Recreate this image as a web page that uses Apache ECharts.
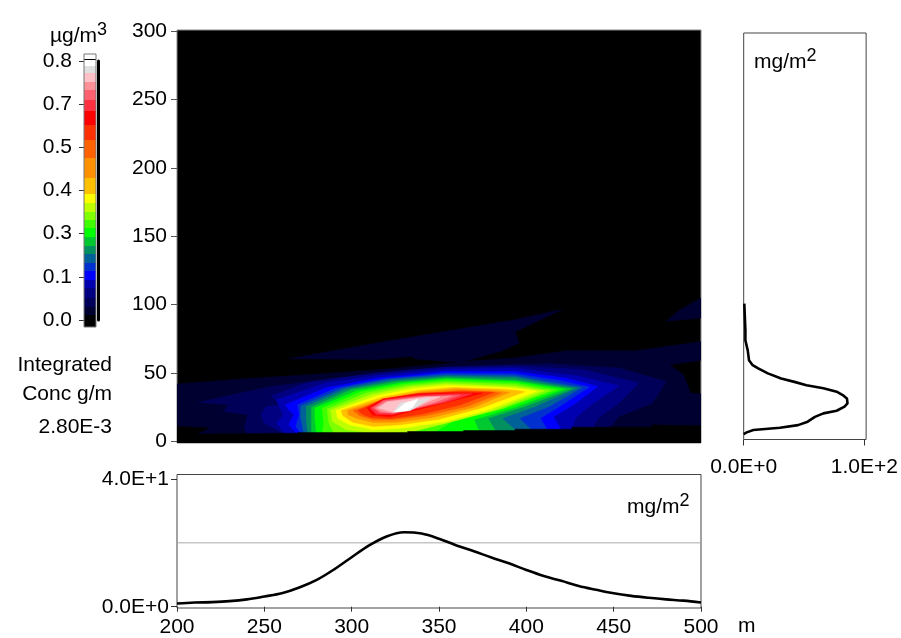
<!DOCTYPE html>
<html><head><meta charset="utf-8">
<style>html,body{margin:0;padding:0;background:#fff}#c{width:901px;height:638px}</style>
<script src="https://cdn.jsdelivr.net/npm/echarts@6/dist/echarts.min.js"></script>
</head><body><div id="c"></div>
<script>
// Contour bands: outlines as [distance m, height m], lowest level first
const band1 = [[200,3.7],[200,42],[236,45.6],[275,48.8],[314.5,52.4],[361,57.8],[337,60.2],[334,62.2],[314.5,60],[264,60.5],[314.5,72],[354,80.5],[393.5,89],[421,96.8],[393.5,80],[396,72],[385.5,65.9],[364,58.5],[393.5,61],[423,66.3],[462.5,66.3],[500,73],[500,59.3],[482,56],[490,48.8],[494,35.4],[500,34.9],[500,3.7]];
const band1b = [[480,87.8],[488,96.3],[500,104.9],[500,90.2]];
const band2 = [[212,28.5],[236,35.4],[254,40.2],[295,47],[334,52.4],[374,55.4],[413,56.8],[453,53.7],[480,43.9],[476,35.4],[472,28],[453,18.3],[448,10.5],[448,3.7],[240.5,3.7],[238.5,10.5],[240.5,19.5],[226.6,22],[229.6,26.8]];
const band3 = [[254,33.4],[275,43.2],[314.5,50],[354,54.4],[393.5,55.4],[433,52.4],[464.5,42.7],[453,28],[441,17],[438,9.8],[438,3.7],[264,3.7],[250,13.4],[248,19.5],[251,25.6],[259,26.8]];
const band4 = [[257,30.5],[285,42.7],[314.5,48.3],[354,53],[393.5,53.7],[429,48],[453,40.7],[437,26.8],[428,17],[426,9],[426,3.7],[263,3.7],[257,13.4],[261,19.5],[259,24.4]];
const band5 = [[262,26.8],[285,39],[314.5,46.3],[354,51.2],[393.5,51.2],[423,46.3],[441,40.2],[427,26.8],[415.5,18],[420,8.5],[420,3.7],[270,3.7],[264,12.2],[267,19.5],[264,23.2]];
const band6 = [[269,26.8],[291,39],[318,45.6],[354,50],[393.5,49.5],[419,44.6],[436,39.8],[419,25.6],[408,17],[412,8.5],[412,3.7],[272,3.7],[268,11],[270,19.5]];
const band7 = [[271,26],[295,39],[322,45.6],[354,48.8],[393.5,48],[415,43.2],[432,39.5],[413,25.6],[396,17],[403,8.5],[403,3.7],[273,3.7],[270.7,18.3]];
const band8 = [[274,25.6],[297,38.3],[324,44.6],[354,47.6],[393.5,46.8],[413,42.2],[429,39],[405,25.6],[386,17],[393.5,8.5],[393.5,3.7],[275,3.7],[274,17]];
const band9 = [[277,25],[300,38],[326,43.7],[354,46.6],[393.5,45],[411,41.5],[426,38.5],[399,25.6],[378,17],[382.6,7.3],[382.6,3.7],[277,3.7],[277,15.9]];
const band10 = [[279,24.4],[303,37],[328,42.7],[354,45.6],[393.5,44],[409,40.7],[422,38.3],[393.5,25],[370,15.9],[373,7.3],[373,3.7],[280,3.7],[279,15.9]];
const band11 = [[283,24.4],[305.6,36.3],[330,42],[354,44.6],[393.5,43],[407,40],[418,37.8],[387.5,24.4],[358,14.6],[346,6],[283,3.7],[284,13.4]];
const band12 = [[286,23.7],[308.6,35.4],[332,41],[354,43.4],[393.5,41.7],[405,39],[414,37.3],[385.6,23.7],[354,13.9],[334,6.6],[314.5,3.7],[291,3.7],[287,13.4]];
const band13 = [[288,23],[311.5,34.4],[334,40],[354,42.2],[393.5,40.2],[403,38.3],[410,37],[381.6,23],[354,13.4],[334,7.3],[314.5,5.6],[297,8.5],[289,14.6]];
const band14 = [[291,22.7],[314.5,33.4],[336,38.8],[354,41],[389.5,39.3],[401,37.8],[406,36.8],[378,23],[354,14.6],[330,9.8],[312.5,8.5],[298.7,12.2],[292,17]];
const band15 = [[294,22.7],[317.5,32.4],[338,37.3],[358,39.5],[385.5,38.3],[395,37.3],[399,36.3],[374,24.4],[350,16.3],[328,12.2],[312.5,11],[300.7,14],[295,18.8]];
const band16 = [[297.7,22.7],[320,31.7],[340,36.3],[360,38.5],[381.6,37.3],[390.5,36],[370,25],[346,17.6],[326,14],[312.5,13.9],[302.6,17],[298,19.5]];
const band17 = [[300.7,22.7],[322,30.5],[343,35],[362,37.3],[378,36.3],[385.6,35.4],[366,25.6],[342,18.8],[324,15.9],[312.5,15.9],[304.6,18.8]];
const band18 = [[303.6,22.7],[318,31],[340,35.4],[364,36.6],[381.6,36],[362,26.6],[340,20],[322,16.6],[311,17.5],[306,20]];
const band19 = [[308.8,24.5],[318,31],[337,34.7],[356,35.6],[375,35.4],[356,29],[337,23],[322,18],[312,19.3]];
const band20 = [[310.5,24.5],[319,30.5],[338,33.8],[358,34.8],[369,34.8],[355,29],[337,24],[323,19.6],[314,20]];
const band21 = [[312.2,24.5],[318,29.8],[337,32.7],[362,33.9],[352,29],[337,24.5],[323.7,20.8],[316,21]];
const band22 = [[313.5,24.5],[319.5,29.2],[340,32.6],[357,33.3],[347,28.5],[336,24.3],[323.7,20.8],[317,22]];
const band23 = [[315,24.5],[320.8,29],[343,32.5],[350.6,32.7],[335,24.5],[323.7,21.5]];
const band24 = [[323.7,21.5],[327.7,28],[344.8,31.8],[339,26.6],[333.4,22.5]];
const band25 = [[324.8,21.8],[330.5,28],[338,31],[335,25],[331.7,22.5]];
const noDataEdge = [[200,11],[218,9.8],[211,5.4],[269,6.1],[269,6.6],[332,6.6],[332,7.3],[364,7.3],[364,8],[393.5,8],[393.5,9],[426,9],[426,10.5],[472,10.5],[472,12],[500,11.5],[500,-2],[200,-2]];

const bandList = [band1,band1b,band2,band3,band4,band5,band6,band7,band8,band9,band10,band11,band12,band13,band14,band15,band16,band17,band18,band19,band20,band21,band22,band23,band24,band25,noDataEdge];
const bandColors = ['#000030','#000030','#000058','#000080','#0000b0','#0000ff','#0030d0','#006098','#009060','#00c830','#00ff00','#40ff00','#80ff00','#c0ff00','#ffff00','#ffc000','#ff9000','#ff6000','#ff3000','#ff0000','#ff3040','#ff6070','#ff9098','#ffc0c8','#e0e0e0','#ffffff','#000000'];

// Colour scale
const scaleEdges = [-0.021,0.0154,0.0412,0.067,0.098,0.124,0.15,0.175,0.203,0.23,0.255,0.284,0.31,0.335,0.36,0.388,0.438,0.5,0.556,0.603,0.645,0.68,0.71,0.736,0.762,0.786,0.793,0.803,0.806,0.82];
const scaleColors = ['#000000','#000030','#000058','#000080','#0000b0','#0000ff','#0030d0','#006098','#009060','#00c830','#00ff00','#40ff00','#80ff00','#c0ff00','#ffff00','#ffc000','#ff9000','#ff6000','#ff3000','#ff0000','#ff3040','#ff6070','#ff9098','#ffc0c8','#e0e0e0','#ffffff','#ffffff','#000000','#ffffff'];
const scaleTicks = [0,0.1333,0.2667,0.4,0.5333,0.6667,0.8];

// Along-wind profile
const alongX = [200,210,220,230,240,250,260,270,280,290,300,310,320,330,340,350,360,370,380,390,400,410,420,430,440,450,460,470,480,490,500];
const alongY = [1.0,1.3,1.45,1.75,2.3,3.2,4.2,6.0,8.4,11.7,15.5,19.2,22.0,23.3,22.9,21.3,19.2,17.4,15.4,13.6,11.5,9.6,8.1,6.5,5.3,4.2,3.4,2.8,2.3,1.9,1.3];
const refLevel = 20;

// Vertical profile
const profileHeight = [100.8,81.4,74,66.8,59.4,55.8,53.4,49.8,46.1,43.6,41.2,39,36.4,34,31.5,27.9,25.5,22.5,20.6,18,14.5,12,10.1,8.4,6.7,5.5];
const profileValue = [0.5,1.4,1.4,3.3,4.4,7.4,12,20,31,42,52,66,77,82,85.5,86,83.5,77,66,59,53,45,30,8,2.5,0];

const xTicks = [200,250,300,350,400,450,500];
const yTicks = [0,50,100,150,200,250,300];
const fmtE = v => v === 0 ? '0.0E+0' : (v === 40 ? '4.0E+1' : '1.0E+2');
const FONT = 'Liberation Sans';
const FS = 21;
const lab = {color:'#000',fontFamily:FONT,fontSize:FS,padding:[3,0,0,0]};

const chart = echarts.init(document.getElementById('c'),null,{renderer:'canvas'});
function sup(x,y,base,s,align){
  return {type:'text',x,y,silent:true,style:{
    text:'{a|'+base+'}{b|'+s+'}',align:align||'left',verticalAlign:'middle',
    rich:{a:{fontFamily:FONT,fontSize:FS,fill:'#000',color:'#000',verticalAlign:'bottom'},
          b:{fontFamily:FONT,fontSize:18,fill:'#000',color:'#000',verticalAlign:'top',padding:[0,0,8,0]}}}};
}
function txt(x,y,t,align){
  return {type:'text',x,y,silent:true,style:{text:t,align:align||'right',verticalAlign:'middle',fontFamily:FONT,fontSize:FS,fill:'#000'}};
}
chart.setOption({
  animation:false,
  backgroundColor:'#fff',
  grid:[
    {left:177,right:200,top:30,bottom:195,show:true,backgroundColor:'#000',borderColor:'#888',borderWidth:1},
    {left:177,right:200,top:474.5,bottom:30,show:true,backgroundColor:'#fff',borderColor:'#444',borderWidth:1},
    {left:743.7,right:34.3,top:33,bottom:198.5,show:true,backgroundColor:'#fff',borderColor:'#444',borderWidth:1},
    {left:84,right:805,top:61,bottom:318}
  ],
  xAxis:[
    {gridIndex:0,type:'value',min:200,max:500,show:false},
    {gridIndex:1,type:'value',min:200,max:500,splitLine:{show:false},axisLine:{show:false},
      axisTick:{show:true,length:5,lineStyle:{color:'#333'},customValues:xTicks},
      axisLabel:{...lab,margin:6,customValues:xTicks}},
    {gridIndex:2,type:'value',min:0,max:101.4,splitLine:{show:false},axisLine:{show:false},
      axisTick:{show:true,length:6,lineStyle:{color:'#333'},customValues:[0,100]},
      axisLabel:{...lab,margin:14,customValues:[0,100],formatter:fmtE}},
    {gridIndex:3,type:'value',min:0,max:1,show:false}
  ],
  yAxis:[
    {gridIndex:0,type:'value',min:-1.1,max:300.7,splitLine:{show:false},axisLine:{show:false},
      axisTick:{show:true,length:6,lineStyle:{color:'#555'},customValues:yTicks},
      axisLabel:{...lab,margin:10,customValues:yTicks}},
    {gridIndex:1,type:'value',min:-0.4,max:41.4,splitLine:{show:false},axisLine:{show:false},
      axisTick:{show:true,length:6,lineStyle:{color:'#333'},customValues:[0,40]},
      axisLabel:{...lab,margin:8,customValues:[0,40],formatter:fmtE}},
    {gridIndex:2,type:'value',min:1.5,max:298.5,show:false},
    {gridIndex:3,type:'value',min:0,max:0.8,position:'left',offset:3,splitLine:{show:false},axisLine:{show:false},
      axisTick:{show:true,length:5,lineStyle:{color:'#333'},customValues:scaleTicks},
      axisLabel:{...lab,margin:9,customValues:scaleTicks,formatter:v=>v.toFixed(1)}},
    {gridIndex:3,type:'value',min:0,max:0.8,position:'right',offset:2.5,splitLine:{show:false},axisTick:{show:false},axisLabel:{show:false},
      axisLine:{show:true,lineStyle:{color:'#000',width:3}}}
  ],
  series:[
    {type:'custom',name:'Concentration',xAxisIndex:0,yAxisIndex:0,clip:true,silent:true,
      data:bandList.map((b,i)=>[200,0,i]),
      renderItem:(p,api)=>{
        const i=api.value(2);
        return {type:'polygon',shape:{points:bandList[i].map(q=>api.coord(q))},style:{fill:bandColors[i],stroke:bandColors[i],lineWidth:0.5}};
      }},
    {type:'line',name:'Reference',xAxisIndex:1,yAxisIndex:1,symbol:'none',silent:true,
      data:[[200,refLevel],[500,refLevel]],lineStyle:{color:'#aaa',width:1}},
    {type:'line',name:'Along',xAxisIndex:1,yAxisIndex:1,symbol:'none',smooth:0.35,silent:true,
      data:alongX.map((x,i)=>[x,alongY[i]]),lineStyle:{color:'#000',width:2.6}},
    {type:'line',name:'Vertical',xAxisIndex:2,yAxisIndex:2,symbol:'none',silent:true,
      data:profileHeight.map((h,i)=>[profileValue[i],h]),lineStyle:{color:'#000',width:2.6}},
    {type:'custom',name:'Scale',xAxisIndex:3,yAxisIndex:3,clip:false,silent:true,
      data:scaleColors.map((c,i)=>[0,scaleEdges[i],scaleEdges[i+1],i]),
      renderItem:(p,api)=>{
        const a=api.coord([0,api.value(1)]),b=api.coord([1,api.value(2)]);
        const c=scaleColors[api.value(3)];
        return {type:'rect',shape:{x:a[0],y:Math.round(b[1]),width:b[0]-a[0],height:Math.round(a[1])-Math.round(b[1])},style:{fill:c}};
      }}
  ],
  graphic:[
    {type:'rect',silent:true,z:100,shape:{x:84,y:54,width:12,height:273},style:{fill:'none',stroke:'#777',lineWidth:1}},
    sup(50,34,'µg/m','3'),
    sup(754,60,'mg/m','2'),
    sup(627,505,'mg/m','2'),
    txt(112,365,'Integrated'),
    txt(112,394,'Conc g/m'),
    txt(112,427,'2.80E-3'),
    txt(738,626,'m','left')
  ]
});
</script></body></html>
